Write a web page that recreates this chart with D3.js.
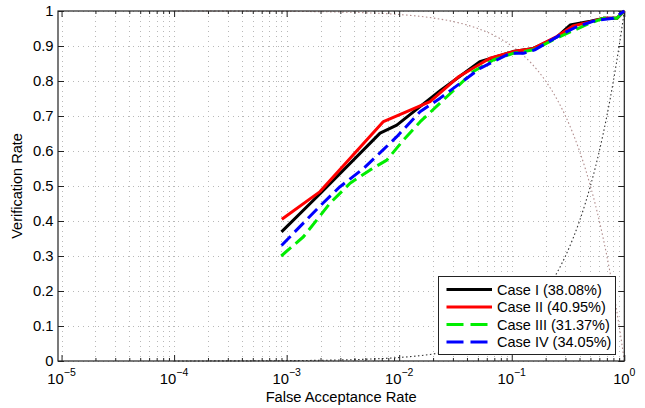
<!DOCTYPE html>
<html><head><meta charset="utf-8">
<script src="https://cdn.jsdelivr.net/npm/d3@7"></script>
<style>
body{margin:0;background:#fff}
text{font-family:"Liberation Sans",Arial,Helvetica,sans-serif;fill:#000}
</style></head>
<body><svg id="c" width="645" height="408"></svg>
<script>
// ---------- data ----------
const xTickExponents = [-5, -4, -3, -2, -1, 0];
const yTicks = [0, 0.1, 0.2, 0.3, 0.4, 0.5, 0.6, 0.7, 0.8, 0.9, 1];
const yTickLabels = ["0", "0.1", "0.2", "0.3", "0.4", "0.5", "0.6", "0.7", "0.8", "0.9", "1"];
const xTitle = "False Acceptance Rate";
const yTitle = "Verification Rate";

const seriesNames = ["Case I (38.08%)", "Case II (40.95%)", "Case III (31.37%)", "Case IV (34.05%)"];

const caseI_far = [9.0e-4, 1.98e-3, 6.76e-3, 9.52e-3, 1.53e-2, 2.31e-2, 5.2e-2, 0.103, 0.156, 0.25, 0.33, 0.5, 0.65, 0.86, 1];
const caseI_vr  = [0.369, 0.478, 0.651, 0.674, 0.727, 0.772, 0.855, 0.884, 0.893, 0.925, 0.96, 0.971, 0.979, 0.979, 1];

const caseII_far = [9.06e-4, 1.98e-3, 7.24e-3, 1e-2, 1.88e-2, 3.4e-2, 6.4e-2, 0.103, 0.156, 0.251, 0.35, 0.496, 0.651, 0.857, 1];
const caseII_vr  = [0.405, 0.484, 0.684, 0.703, 0.741, 0.813, 0.865, 0.884, 0.893, 0.927, 0.957, 0.969, 0.979, 0.979, 1];

const caseIII_far = [8.95e-4, 1.41e-3, 2.43e-3, 3.66e-3, 5.52e-3, 7.76e-3, 1.09e-2, 1.53e-2, 2.31e-2, 4.56e-2, 6.87e-2, 0.103, 0.156, 0.268, 0.493, 0.65, 0.857, 1];
const caseIII_vr  = [0.30, 0.355, 0.451, 0.508, 0.546, 0.574, 0.631, 0.683, 0.737, 0.827, 0.86, 0.879, 0.889, 0.927, 0.965, 0.979, 0.979, 1];

const caseIV_far = [9.0e-4, 1.98e-3, 2.98e-3, 4.81e-3, 7.19e-3, 9.52e-3, 1.53e-2, 2.31e-2, 5.23e-2, 0.0964, 0.127, 0.16, 0.268, 0.378, 0.569, 0.80, 0.98, 1];
const caseIV_vr  = [0.330, 0.443, 0.498, 0.550, 0.603, 0.641, 0.712, 0.751, 0.836, 0.879, 0.879, 0.889, 0.931, 0.955, 0.974, 0.979, 0.998, 1];

// reference guides (chance diagonal y = x and its complement y = 1 - x)
const refFar  = [1e-4, 2e-4, 5e-4, 1e-3, 2e-3, 5e-3, 0.01, 0.015, 0.02, 0.03, 0.04, 0.05, 0.06, 0.07, 0.08, 0.1, 0.12, 0.15, 0.2, 0.25, 0.3, 0.35, 0.4, 0.45, 0.5, 0.55, 0.6, 0.65, 0.7, 0.75, 0.8, 0.85, 0.9, 0.95, 1];
const refDiag = [1e-4, 2e-4, 5e-4, 1e-3, 2e-3, 5e-3, 0.01, 0.015, 0.02, 0.03, 0.04, 0.05, 0.06, 0.07, 0.08, 0.1, 0.12, 0.15, 0.2, 0.25, 0.3, 0.35, 0.4, 0.45, 0.5, 0.55, 0.6, 0.65, 0.7, 0.75, 0.8, 0.85, 0.9, 0.95, 1];
const refComp = [0.9999, 0.9998, 0.9995, 0.999, 0.998, 0.995, 0.99, 0.985, 0.98, 0.97, 0.96, 0.95, 0.94, 0.93, 0.92, 0.9, 0.88, 0.85, 0.8, 0.75, 0.7, 0.65, 0.6, 0.55, 0.5, 0.45, 0.4, 0.35, 0.3, 0.25, 0.2, 0.15, 0.1, 0.05, 0];

// ---------- layout ----------
const svg = d3.select("#c");
svg.append("rect").attr("width", 645).attr("height", 408).attr("fill", "#fff");
const L = 58, R = 624.3, T = 11, B = 361;
const x = d3.scaleLog().domain([9.3e-6, 1]).range([L, R]);
const y = d3.scaleLinear().domain([0, 1]).range([B, T]);

const majors = xTickExponents.map(e => Math.pow(10, e));
const minors = [];
for (let e = -6; e < 0; e++) for (let m = 2; m <= 9; m++) {
  const v = m * Math.pow(10, e);
  if (v >= x.domain()[0] && v <= 1) minors.push(v);
}

// grid
const grid = svg.append("g").attr("stroke", "#b8b8b8").attr("stroke-width", 1).attr("stroke-dasharray", "1,4").attr("fill", "none");
majors.concat(minors).forEach(v => {
  const px = Math.round(x(v)) + 0.5;
  grid.append("line").attr("x1", px).attr("x2", px).attr("y1", T).attr("y2", B);
});
yTicks.forEach(v => {
  const py = Math.round(y(v)) + 0.5;
  grid.append("line").attr("x1", L).attr("x2", R).attr("y1", py).attr("y2", py);
});

// reference guides
const refLine = d3.line().x(d => x(d[0])).y(d => y(d[1])).curve(d3.curveMonotoneX);
svg.append("path").datum(refFar.map((f, i) => [f, refComp[i]]))
  .attr("d", refLine).attr("fill", "none").attr("stroke", "#b08c8c").attr("stroke-width", 1.1).attr("stroke-dasharray", "1.5,2.5");
svg.append("path").datum(refFar.map((f, i) => [f, refDiag[i]]))
  .attr("d", refLine).attr("fill", "none").attr("stroke", "#333").attr("stroke-width", 1.1).attr("stroke-dasharray", "1.5,2.5");

// axes (ticks inward on all four sides)
const axColor = "#222";
function styleAxis(g) {
  g.select(".domain").remove();
  g.selectAll("line").attr("stroke", axColor);
  g.selectAll("text").remove();
}
svg.append("g").attr("transform", `translate(0,${B})`)
  .call(d3.axisBottom(x).tickValues(majors).tickSize(-6).tickFormat("")).call(styleAxis);
svg.append("g").attr("transform", `translate(0,${B})`)
  .call(d3.axisBottom(x).tickValues(minors).tickSize(-3).tickFormat("")).call(styleAxis);
svg.append("g").attr("transform", `translate(0,${T})`)
  .call(d3.axisTop(x).tickValues(majors).tickSize(-6).tickFormat("")).call(styleAxis);
svg.append("g").attr("transform", `translate(0,${T})`)
  .call(d3.axisTop(x).tickValues(minors).tickSize(-3).tickFormat("")).call(styleAxis);
svg.append("g").attr("transform", `translate(${L},0)`)
  .call(d3.axisLeft(y).tickValues(yTicks).tickSize(-6).tickFormat("")).call(styleAxis);
svg.append("g").attr("transform", `translate(${R},0)`)
  .call(d3.axisRight(y).tickValues(yTicks).tickSize(-6).tickFormat("")).call(styleAxis);

// frame
svg.append("rect").attr("x", L).attr("y", T).attr("width", R - L).attr("height", B - T)
  .attr("fill", "none").attr("stroke", axColor).attr("stroke-width", 1.2);

// tick labels
yTicks.forEach((v, i) => {
  svg.append("text").attr("x", 53.5).attr("y", y(v) + 5.3).attr("text-anchor", "end")
    .attr("font-size", 14.8).text(yTickLabels[i]);
});
xTickExponents.forEach(e => {
  const t = svg.append("text").attr("x", x(Math.pow(10, e))).attr("y", 383.5)
    .attr("text-anchor", "middle").attr("font-size", 14.8);
  t.append("tspan").text("10");
  t.append("tspan").attr("dy", -8).attr("font-size", 10.5).text(e === 0 ? "0" : "\u2212" + Math.abs(e));
});

// titles
svg.append("text").attr("x", (L + R) / 2).attr("y", 401.5).attr("text-anchor", "middle").attr("font-size", 14.7).text(xTitle);
svg.append("text").attr("transform", `translate(22,${(T + B) / 2}) rotate(-90)`).attr("text-anchor", "middle").attr("font-size", 14.5).text(yTitle);

// series
const series = [
  {far: caseI_far, vr: caseI_vr, color: "#000000", dash: null},
  {far: caseII_far, vr: caseII_vr, color: "#ff0000", dash: null},
  {far: caseIII_far, vr: caseIII_vr, color: "#00ee00", dash: "13,6"},
  {far: caseIV_far, vr: caseIV_vr, color: "#0000ff", dash: "13,6"}
];
const line = d3.line().x(d => x(d[0])).y(d => y(d[1]));
series.forEach(s => {
  svg.append("path").datum(s.far.map((f, i) => [f, s.vr[i]]))
    .attr("d", line).attr("fill", "none").attr("stroke", s.color).attr("stroke-width", 3)
    .attr("stroke-linejoin", "round").attr("stroke-dasharray", s.dash);
});

// legend
const lg = svg.append("g");
lg.append("rect").attr("x", 438.5).attr("y", 276.5).attr("width", 177).attr("height", 78)
  .attr("fill", "#fff").attr("stroke", axColor).attr("stroke-width", 1);
const rowY = [289.5, 307, 324.5, 342];
series.forEach((s, i) => {
  lg.append("line").attr("x1", 446.5).attr("x2", 492).attr("y1", rowY[i]).attr("y2", rowY[i])
    .attr("stroke", s.color).attr("stroke-width", 3).attr("stroke-dasharray", s.dash ? "17,7" : null);
  lg.append("text").attr("x", 497).attr("y", rowY[i] + 5.2).attr("font-size", 14.5).text(seriesNames[i]);
});
</script></body></html>
